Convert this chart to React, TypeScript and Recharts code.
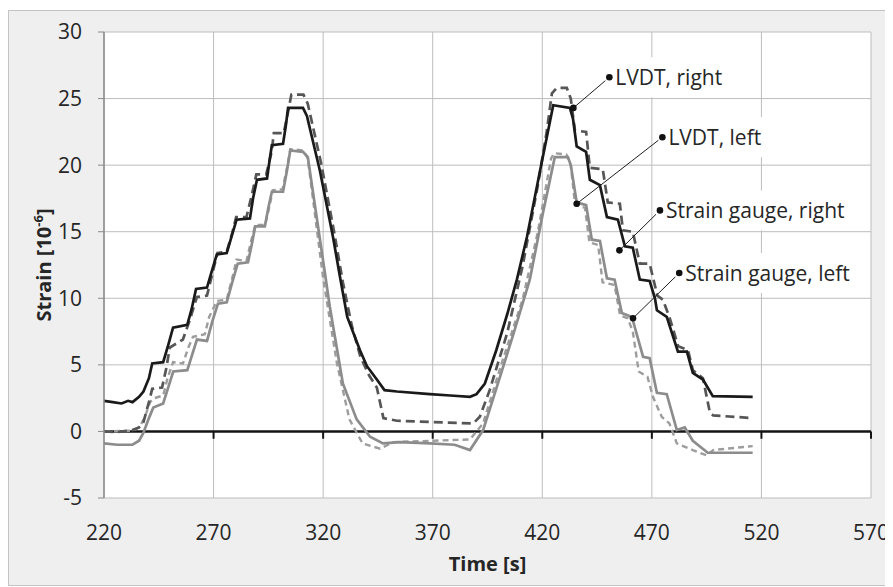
import React from 'react';
import {
  LineChart, Line, XAxis, YAxis, CartesianGrid, ReferenceLine, ReferenceDot,
} from 'recharts';

// ---- axis ticks ----
const timeTicks = [220, 270, 320, 370, 420, 470, 520, 570];
const strainTicks = [-5, 0, 5, 10, 15, 20, 25, 30];
const axisTickMarks = [270, 320, 370, 420, 470, 520, 570];

// ---- LVDT, right (black solid) ----
const lvdtRightTime = [220, 224, 228, 231, 233, 236, 238, 240.5, 242, 247, 249.5, 251.5, 258, 260, 262, 267, 269.5, 271.5, 276, 278.5, 280.5, 286.6, 288, 289.8, 294.4, 295.5, 296.6, 301.7, 303, 304, 310.8, 312.6, 318.5, 324.5, 327.7, 331, 336.8, 340, 344.5, 348, 353.7, 368.7, 378, 387, 390, 393.8, 399, 404, 408.4, 413, 419, 425, 432.6, 434, 435.7, 440, 441.7, 446.3, 449.5, 454.5, 457.7, 461.3, 464.5, 469, 471.4, 472.3, 476.8, 481.9, 486, 488.7, 493.3, 497.8, 516];
const lvdtRightStrain = [2.3, 2.2, 2.1, 2.3, 2.2, 2.6, 3.0, 4.0, 5.1, 5.2, 6.6, 7.8, 8.0, 9.2, 10.7, 10.8, 12.2, 13.3, 13.4, 14.8, 15.9, 16.0, 17.5, 18.9, 19.0, 20.3, 21.5, 21.6, 23.0, 24.3, 24.3, 23.7, 19.6, 14.6, 11.6, 8.6, 6.1, 4.9, 3.9, 3.1, 3.0, 2.8, 2.7, 2.6, 2.8, 3.6, 6.1, 8.8, 11.4, 14.6, 19.6, 24.5, 24.3, 23.5, 21.4, 21.0, 18.9, 18.5, 16.1, 15.9, 13.9, 13.8, 11.4, 11.3, 10.0, 9.1, 8.6, 6.0, 6.0, 4.4, 3.9, 2.65, 2.6];

// ---- LVDT, left (grey solid) ----
const lvdtLeftTime = [220, 226, 233, 236, 238, 240.5, 242.5, 247, 249.5, 251.6, 258, 260.5, 262.4, 267, 269.5, 272, 276, 278.5, 281, 285.7, 287.5, 289, 293.4, 295, 296.6, 301.7, 303.5, 305, 310.8, 313, 320.8, 323, 329, 335.3, 341.4, 347.3, 355, 368.7, 380, 387, 393, 400.7, 406.6, 414.3, 420.3, 425.7, 431.7, 433, 435.7, 440, 442.6, 446.3, 449.5, 453, 456.3, 460.9, 466, 469, 472.3, 476.8, 481.4, 485, 488.7, 495.5, 502, 516];
const lvdtLeftStrain = [-0.9, -1.0, -1.0, -0.7, -0.1, 1.0, 1.8, 2.1, 3.4, 4.5, 4.6, 5.9, 6.9, 6.8, 8.3, 9.6, 9.7, 11.2, 12.6, 12.7, 14.1, 15.4, 15.4, 16.8, 18.0, 18.0, 19.6, 21.1, 21.0, 20.6, 11.9, 9.4, 3.6, 0.9, -0.4, -0.9, -0.8, -0.9, -1.0, -1.4, 0.1, 4.1, 7.2, 11.4, 16.4, 20.6, 20.6, 20.0, 17.2, 17.0, 14.4, 14.3, 11.5, 11.4, 8.9, 8.6, 5.6, 5.5, 2.9, 2.8, 0.1, 0.3, -0.7, -1.6, -1.6, -1.6];

// ---- Strain gauge, right (dark grey dashed) ----
const gaugeRightTime = [220, 226, 233, 236, 238, 240.5, 242, 246.5, 248.5, 250, 256, 259, 262.4, 267, 269.5, 271.8, 276, 278.5, 280.3, 285, 287.5, 289.5, 294, 296.5, 297.5, 302, 304, 305.5, 311, 313, 319, 325, 329, 333, 337, 341, 344.5, 347.5, 353.7, 370, 388.5, 391.5, 396, 404, 411, 418, 422, 424.4, 426.6, 431.2, 433, 434.9, 440, 441.7, 447.6, 449.9, 455.4, 456.8, 461.3, 464.5, 469, 472.5, 475, 478, 482, 486.5, 488.7, 493.3, 496.5, 498, 516];
const gaugeRightStrain = [0.0, -0.05, 0.1, 0.3, 0.7, 2.2, 3.2, 3.3, 4.8, 6.3, 6.9, 8.3, 10.1, 10.2, 11.9, 13.4, 13.5, 14.9, 16.1, 16.1, 17.8, 19.3, 19.3, 21.0, 22.4, 22.4, 24.0, 25.3, 25.3, 24.6, 20.2, 15.0, 11.2, 8.0, 5.6, 4.2, 3.3, 1.0, 0.8, 0.7, 0.6, 1.1, 3.1, 7.4, 12.4, 18.5, 22.5, 25.4, 25.8, 25.8, 25.0, 22.6, 22.5, 19.8, 19.7, 17.2, 17.1, 15.1, 15.0, 12.6, 12.6, 10.2, 9.9, 8.6, 6.4, 6.1, 4.6, 4.0, 1.4, 1.2, 1.0];

// ---- Strain gauge, left (light grey dashed) ----
const gaugeLeftTime = [220, 233, 236, 238.5, 241, 243, 247, 249, 251.5, 256, 258.5, 260.6, 266, 268, 271.5, 276, 278.5, 280.5, 285, 287, 289, 293.5, 295.5, 297, 301.5, 303.5, 305, 311, 313, 320, 326.3, 332, 338, 346, 352, 370, 387, 393, 402, 411, 418, 424, 425.5, 431, 433, 435, 439.5, 441.5, 445.5, 447.5, 453, 455.5, 459, 461.3, 464, 468, 470.5, 474.5, 478, 481.4, 488.7, 495, 498, 516];
const gaugeLeftStrain = [0.0, 0.05, 0.3, 1.0, 2.2, 2.5, 2.7, 4.0, 5.2, 5.1, 6.3, 7.1, 7.3, 8.6, 9.8, 9.9, 11.5, 12.9, 12.8, 14.2, 15.5, 15.5, 16.9, 18.1, 18.2, 19.8, 21.2, 21.1, 20.5, 11.5, 5.1, 0.9, -0.9, -1.3, -0.8, -0.7, -0.6, 0.6, 5.4, 9.9, 15.0, 20.5, 20.9, 20.8, 20.0, 17.0, 16.8, 14.2, 14.0, 11.2, 11.0, 8.7, 8.5, 7.5, 4.5, 4.1, 2.6, 1.1, 0.6, -0.9, -1.4, -1.8, -1.4, -1.1];

// ---- call-out annotations ----
const annotationLabels = ['LVDT, right', 'LVDT, left', 'Strain gauge, right', 'Strain gauge, left'];
const annotationAnchorTime = [434.2, 435.7, 455.2, 461.4];
const annotationAnchorStrain = [24.3, 17.1, 13.6, 8.5];
const annotationLabelTime = [450.6, 474.8, 473.7, 482.5];
const annotationLabelStrain = [26.6, 22.1, 16.6, 11.9];

const zip = (t: number[], v: number[]) => t.map((x, i) => ({ t: x, v: v[i] }));

const lvdtRight = zip(lvdtRightTime, lvdtRightStrain);
const lvdtLeft = zip(lvdtLeftTime, lvdtLeftStrain);
const gaugeRight = zip(gaugeRightTime, gaugeRightStrain);
const gaugeLeft = zip(gaugeLeftTime, gaugeLeftStrain);

const FONT = '"Open Sans", "DejaVu Sans", sans-serif';
const TEXT = '#262626';

const LabelShape = (label: string) => (props: any) => {
  const { cx, cy } = props;
  const w = label.length * 9.6 + 12;
  return (
    <g>
      <rect x={cx - 4} y={cy - 20} width={w} height={40} fill="#ffffff" />
      <circle cx={cx} cy={cy} r={3.3} fill="#111" />
      <text x={cx + 6} y={cy} dy="0.36em" fontSize={21} fontFamily={FONT} fill={TEXT}>
        {label}
      </text>
    </g>
  );
};

const YTitle = (props: any) => {
  const vb = props.viewBox || {};
  const x = (vb.x ?? 0) + 42;
  const y = (vb.y ?? 0) + (vb.height ?? 0) / 2;
  return (
    <text
      x={x}
      y={y}
      transform={`rotate(-90, ${x}, ${y})`}
      textAnchor="middle"
      fontSize={20}
      fontWeight="bold"
      fontFamily={FONT}
      fill={TEXT}
    >
      Strain [10
      <tspan dy={-8} fontSize={13}>-6</tspan>
      <tspan dy={8}>]</tspan>
    </text>
  );
};

const XTitle = (props: any) => {
  const vb = props.viewBox || {};
  const x = (vb.x ?? 0) + (vb.width ?? 0) / 2;
  const y = (vb.y ?? 0) + 73;
  return (
    <text x={x} y={y} textAnchor="middle" fontSize={20} fontWeight="bold" fontFamily={FONT} fill={TEXT}>
      Time [s]
    </text>
  );
};

export default function App() {
  return (
    <div
      style={{
        marginTop: 2,
        width: 884,
        height: 574,
        background: '#efefef',
        border: '1px solid #c4c4c4',
      }}
    >
      <LineChart
        width={884}
        height={574}
        margin={{ top: 21, right: 22, left: 0, bottom: 27 }}
        style={{ fontFamily: FONT }}
      >
        <CartesianGrid stroke="#bdbdbd" strokeWidth={1} fill="#ffffff" />
        <XAxis
          type="number"
          dataKey="t"
          domain={[220, 570]}
          ticks={timeTicks}
          allowDataOverflow
          axisLine={false}
          tickLine={false}
          tickSize={0}
          tickMargin={27}
          height={60}
          tick={{ fontSize: 21, fill: TEXT, fontFamily: FONT }}
          label={<XTitle />}
        />
        <YAxis
          type="number"
          dataKey="v"
          domain={[-5, 30]}
          ticks={strainTicks}
          allowDataOverflow
          width={95}
          axisLine={{ stroke: '#8a8a8a', strokeWidth: 1.5 }}
          tickLine={{ stroke: '#8a8a8a' }}
          tickSize={6}
          tickMargin={16}
          tick={{ fontSize: 21, fill: TEXT, fontFamily: FONT }}
          label={<YTitle />}
        />
        <ReferenceLine y={0} stroke="#141414" strokeWidth={2.6} ifOverflow="visible" />
        {axisTickMarks.map((t) => (
          <ReferenceLine
            key={`tick-${t}`}
            segment={[{ x: t, y: 0 }, { x: t, y: -0.55 }]}
            stroke="#141414"
            strokeWidth={2}
            ifOverflow="visible"
          />
        ))}
        <Line
          data={gaugeLeft}
          dataKey="v"
          type="linear"
          stroke="#9d9d9d"
          strokeWidth={2.4}
          strokeDasharray="6 4"
          dot={false}
          isAnimationActive={false}
        />
        <Line
          data={lvdtLeft}
          dataKey="v"
          type="linear"
          stroke="#8c8c8c"
          strokeWidth={2.7}
          dot={false}
          isAnimationActive={false}
        />
        <Line
          data={gaugeRight}
          dataKey="v"
          type="linear"
          stroke="#565656"
          strokeWidth={2.7}
          strokeDasharray="9 5"
          dot={false}
          isAnimationActive={false}
        />
        <Line
          data={lvdtRight}
          dataKey="v"
          type="linear"
          stroke="#1a1a1a"
          strokeWidth={2.7}
          dot={false}
          isAnimationActive={false}
        />
        {annotationLabels.map((label, i) => (
          <ReferenceLine
            key={`lead-${i}`}
            segment={[
              { x: annotationAnchorTime[i], y: annotationAnchorStrain[i] },
              { x: annotationLabelTime[i], y: annotationLabelStrain[i] },
            ]}
            stroke="#1e1e1e"
            strokeWidth={1}
            ifOverflow="visible"
          />
        ))}
        {annotationLabels.map((label, i) => (
          <ReferenceDot
            key={`anchor-${i}`}
            x={annotationAnchorTime[i]}
            y={annotationAnchorStrain[i]}
            r={3.3}
            fill="#111"
            stroke="none"
            ifOverflow="visible"
          />
        ))}
        {annotationLabels.map((label, i) => (
          <ReferenceDot
            key={`label-${i}`}
            x={annotationLabelTime[i]}
            y={annotationLabelStrain[i]}
            r={3.3}
            ifOverflow="visible"
            shape={LabelShape(label)}
          />
        ))}
      </LineChart>
    </div>
  );
}
